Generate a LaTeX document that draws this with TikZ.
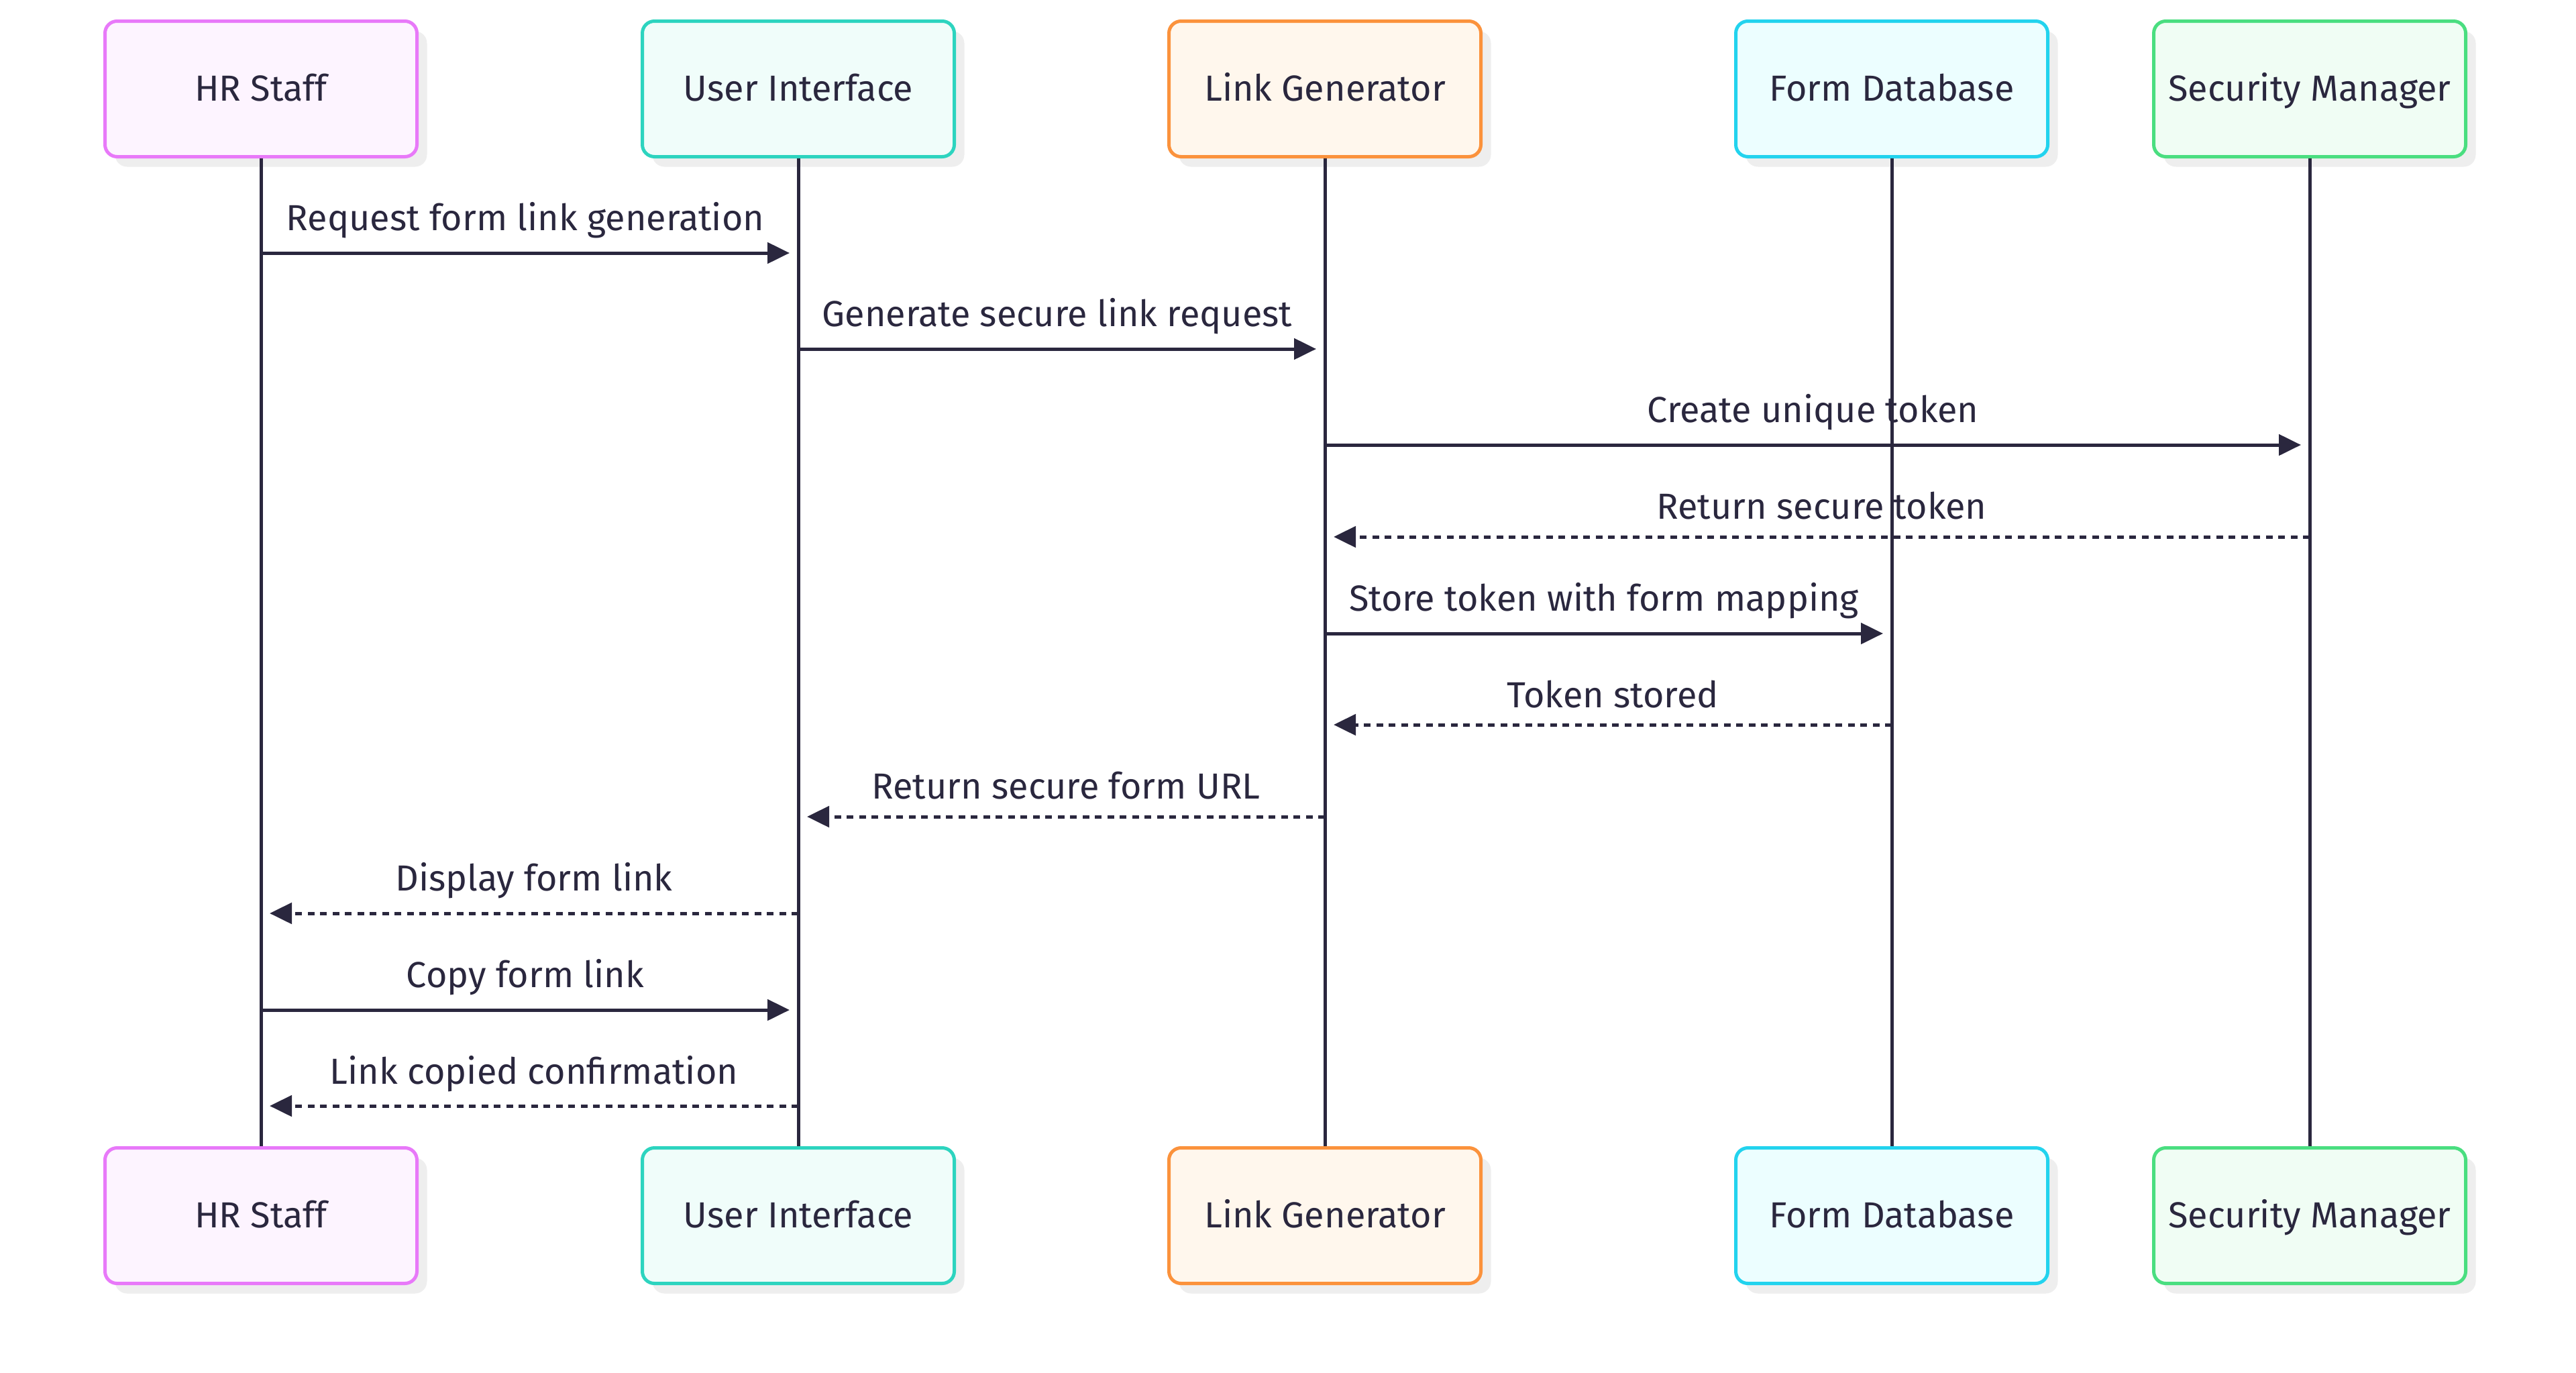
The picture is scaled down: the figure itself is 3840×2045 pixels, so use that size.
\documentclass[tikz,border=0pt]{standalone}
\usepackage{fontspec}
\setmainfont{Fira Sans}
\usetikzlibrary{arrows.meta}
\definecolor{ink}{HTML}{2A273E}
\definecolor{shadowc}{HTML}{EEEEEE}
\definecolor{hrB}{HTML}{E879F9}\definecolor{hrF}{HTML}{FDF4FF}
\definecolor{uiB}{HTML}{2DD4BF}\definecolor{uiF}{HTML}{F0FDFA}
\definecolor{lgB}{HTML}{FB923C}\definecolor{lgF}{HTML}{FFF7ED}
\definecolor{fdB}{HTML}{22D3EE}\definecolor{fdF}{HTML}{ECFEFF}
\definecolor{smB}{HTML}{4ADE80}\definecolor{smF}{HTML}{F0FDF4}
\tikzset{
  actorbox/.style 2 args={draw=#1, fill=#2, line width=5pt, rounded corners=18pt,
    minimum width=465pt, minimum height=202pt, inner sep=0pt,
    text height=36pt, text depth=0pt,
    font=\fontsize{54}{64}\selectfont, text=ink,
    preaction={fill=shadowc, draw=none, transform canvas={shift={(15pt,-15pt)}}}},
  lifeline/.style={draw=ink, line width=5pt},
  msgsolid/.style={draw=ink, line width=5pt, -{Triangle[length=33pt,width=31pt]}},
  msgdash/.style={draw=ink, line width=5pt, dash pattern=on 10pt off 8.5pt, -{Triangle[length=33pt,width=31pt]}},
  lbl/.style={anchor=base, inner sep=0pt, text=ink, font=\fontsize{54}{64}\selectfont}
}
\begin{document}
\begin{tikzpicture}[x=1pt,y=-1pt]
\useasboundingbox[fill=white] (0,0) rectangle (3840,2045);
% top actors
\node[actorbox={hrB}{hrF}] (hrT) at (389,132.5) {HR Staff};
\node[actorbox={uiB}{uiF}] (uiT) at (1190,132.5) {User Interface};
\node[actorbox={lgB}{lgF}] (lgT) at (1975,132.5) {Link Generator};
\node[actorbox={fdB}{fdF}] (fdT) at (2820,132.5) {Form Database};
\node[actorbox={smB}{smF}] (smT) at (3443,132.5) {Security Manager};
% bottom actors
\node[actorbox={hrB}{hrF}] (hrL) at (389,1811.5) {HR Staff};
\node[actorbox={uiB}{uiF}] (uiL) at (1190,1811.5) {User Interface};
\node[actorbox={lgB}{lgF}] (lgL) at (1975,1811.5) {Link Generator};
\node[actorbox={fdB}{fdF}] (fdL) at (2820,1811.5) {Form Database};
\node[actorbox={smB}{smF}] (smL) at (3443,1811.5) {Security Manager};
% lifelines
\draw[lifeline] (hrT.south) -- (hrL.north);
\draw[lifeline] (uiT.south) -- (uiL.north);
\draw[lifeline] (lgT.south) -- (lgL.north);
\draw[lifeline] (fdT.south) -- (fdL.north);
\draw[lifeline] (smT.south) -- (smL.north);
% message rows
\coordinate (r1) at (0,377);
\coordinate (r2) at (0,520);
\coordinate (r3) at (0,663);
\coordinate (r4) at (0,800);
\coordinate (r5) at (0,944);
\coordinate (r6) at (0,1080);
\coordinate (r7) at (0,1217);
\coordinate (r8) at (0,1361);
\coordinate (r9) at (0,1505);
\coordinate (r10) at (0,1648);
% messages
\draw[msgsolid] (hrT |- r1) -- node[lbl, yshift=34pt] (t1) {Request form link generation} ([xshift=-13pt]uiT |- r1);
\draw[msgsolid] (uiT |- r2) -- node[lbl, yshift=34pt] (t2) {Generate secure link request} ([xshift=-13pt]lgT |- r2);
\draw[msgsolid] (lgT |- r3) -- node[lbl, yshift=34pt] (t3) {Create unique token} ([xshift=-13pt]smT |- r3);
\draw[msgdash] (smT |- r4) -- node[lbl, yshift=27pt] (t4) {Return secure token} ([xshift=13pt]lgT |- r4);
\draw[msgsolid] (lgT |- r5) -- node[lbl, yshift=34pt] (t5) {Store token with form mapping} ([xshift=-13pt]fdT |- r5);
\draw[msgdash] (fdT |- r6) -- node[lbl, yshift=26pt] (t6) {Token stored} ([xshift=13pt]lgT |- r6);
\draw[msgdash] (lgT |- r7) -- node[lbl, yshift=27pt] (t7) {Return secure form URL} ([xshift=13pt]uiT |- r7);
\draw[msgdash] (uiT |- r8) -- node[lbl, yshift=34pt] (t8) {Display form link} ([xshift=13pt]hrT |- r8);
\draw[msgsolid] (hrT |- r9) -- node[lbl, yshift=34pt] (t9) {Copy form link} ([xshift=-13pt]uiT |- r9);
\draw[msgdash] (uiT |- r10) -- node[lbl, yshift=33pt] (t10) {Link copied confirmation} ([xshift=13pt]hrT |- r10);
\end{tikzpicture}
\end{document}
